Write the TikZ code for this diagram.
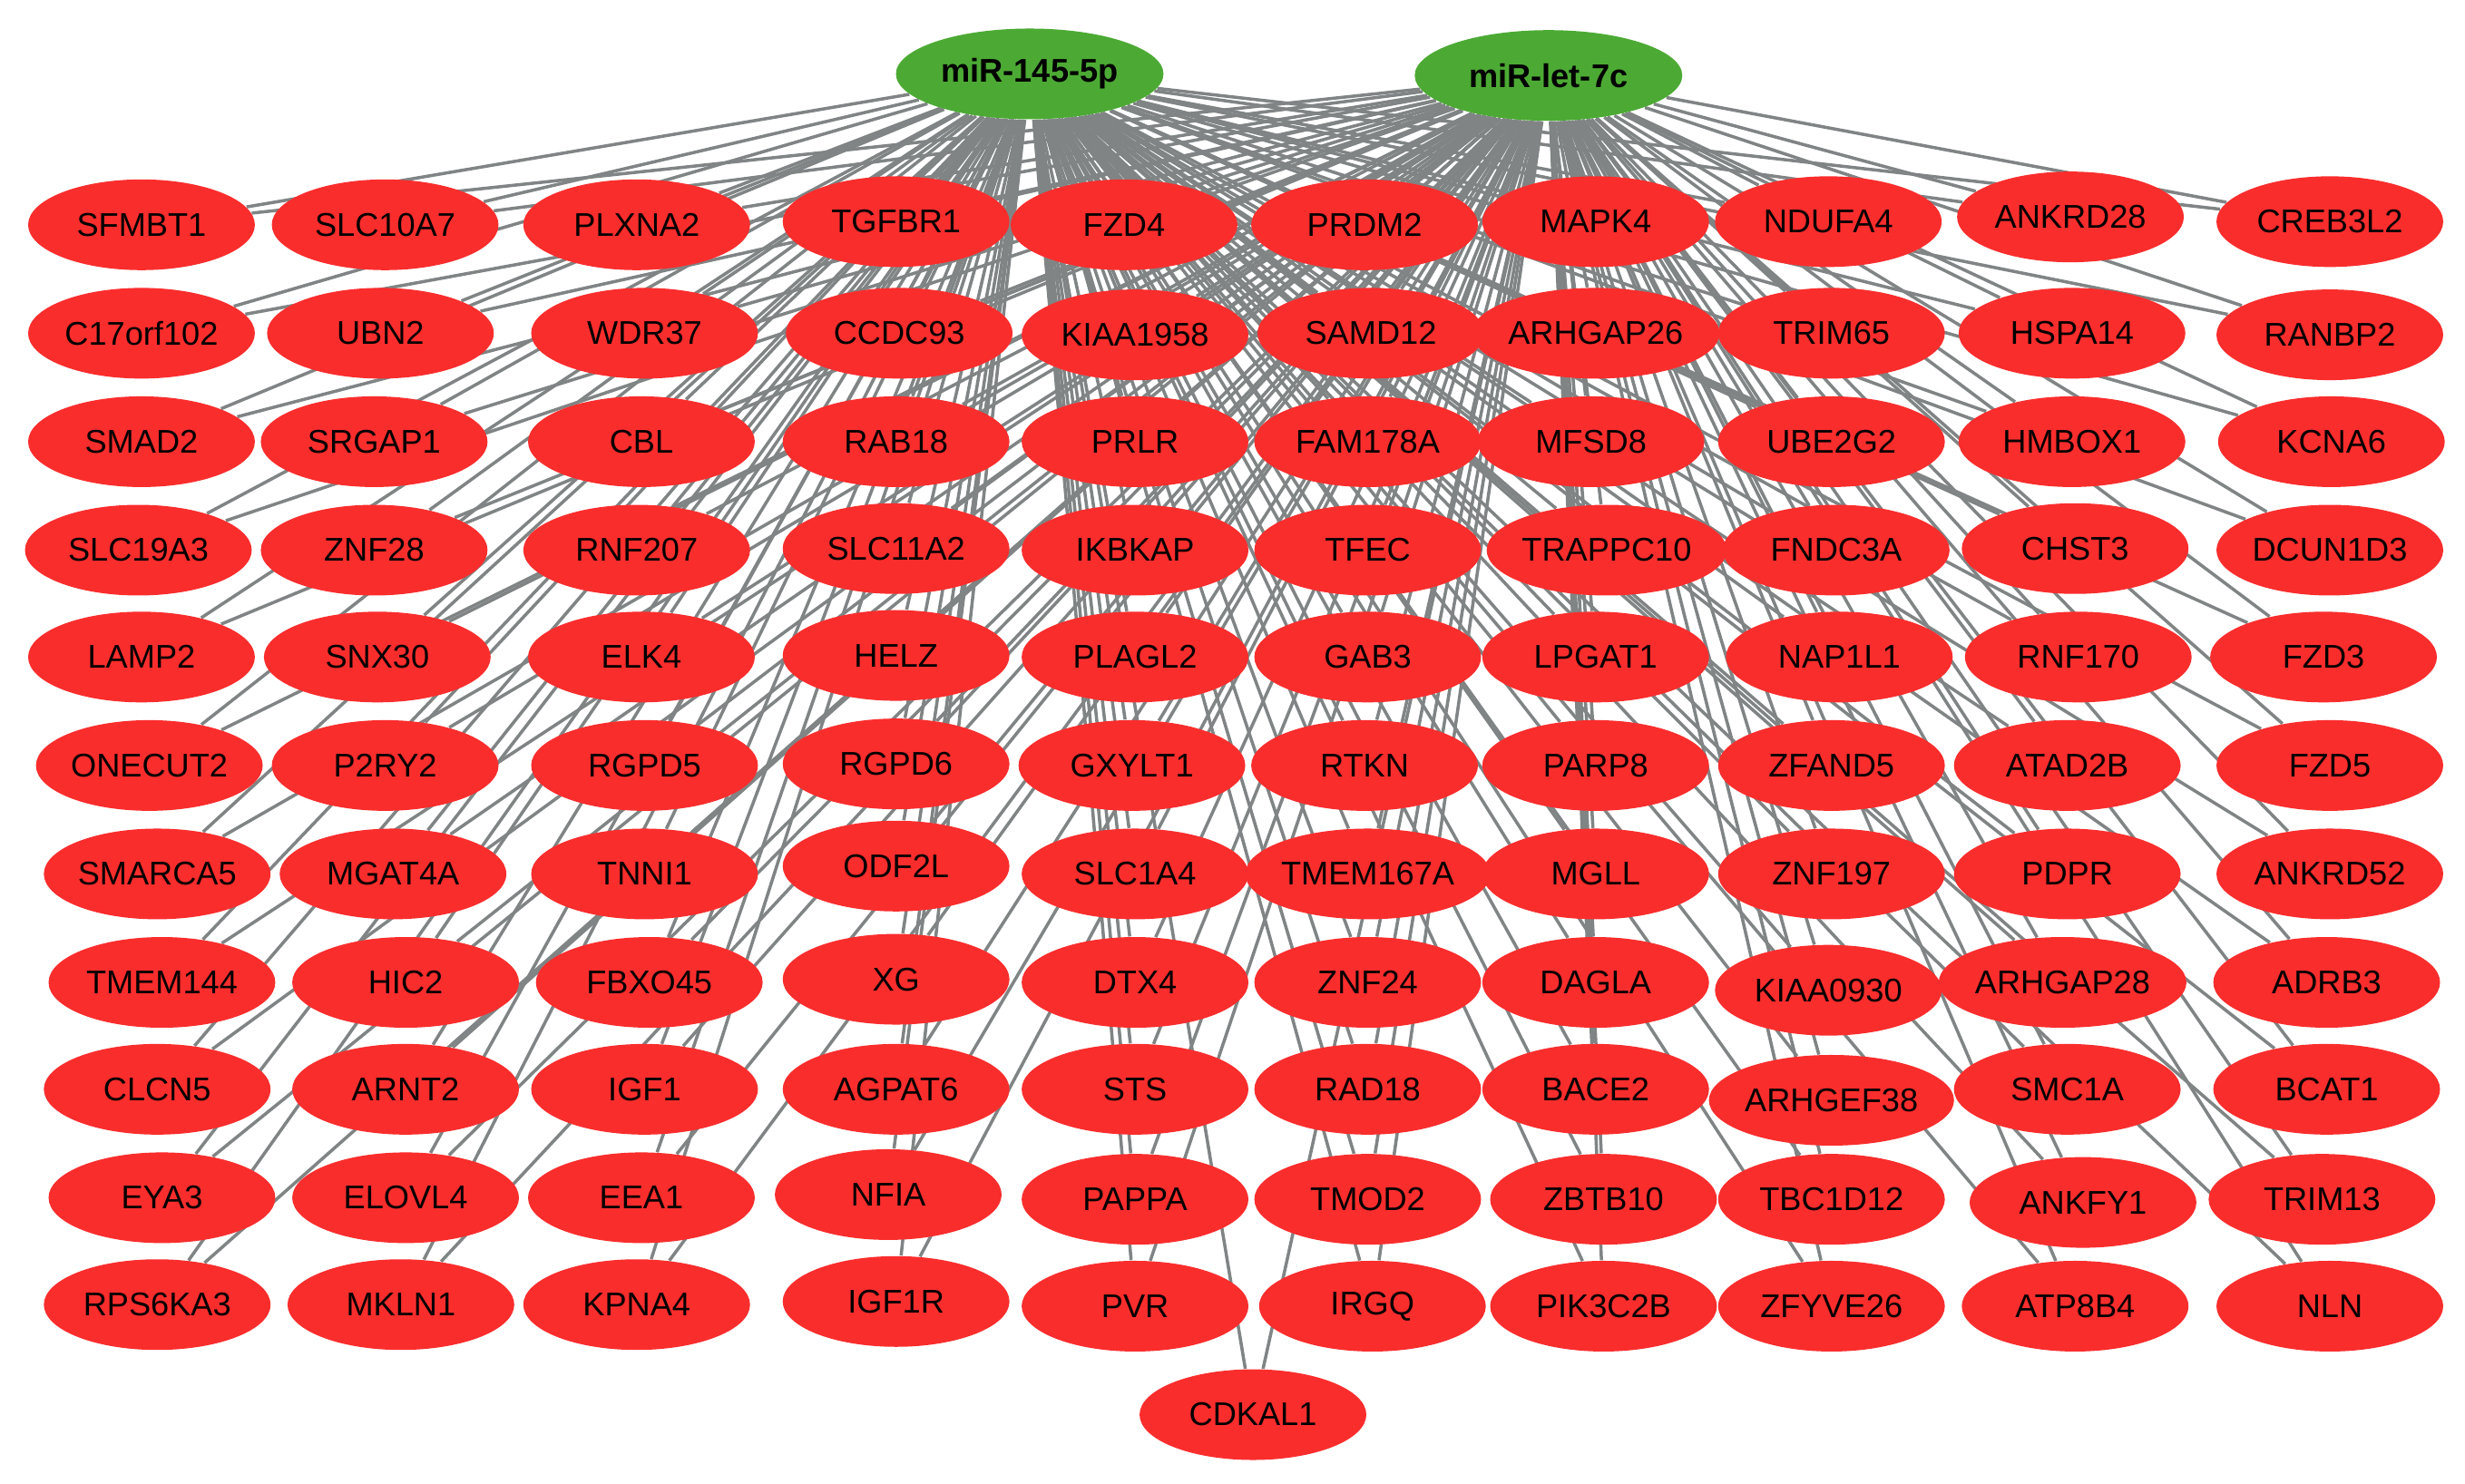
\documentclass[tikz,border=0pt]{standalone}
\usepackage{fontspec}
\setmainfont{Liberation Sans}
\usetikzlibrary{shapes.geometric, backgrounds}
\definecolor{genered}{RGB}{250,45,45}
\definecolor{mirgreen}{RGB}{76,170,52}
\definecolor{linkgray}{RGB}{128,132,132}
% name/x/y of every target gene
\def\genelist{%
SFMBT1/90/143, SLC10A7/245/143, PLXNA2/405/143, TGFBR1/570/141, FZD4/715/143,
PRDM2/868/143, MAPK4/1015/141, NDUFA4/1163/141, ANKRD28/1317/138, CREB3L2/1482/141,
C17orf102/90/212, UBN2/242/212, WDR37/410/212, CCDC93/572/212, KIAA1958/722/213,
SAMD12/872/212, ARHGAP26/1015/212, TRIM65/1165/212, HSPA14/1318/212, RANBP2/1482/213,
SMAD2/90/281, SRGAP1/238/281, CBL/408/281, RAB18/570/281, PRLR/722/281,
FAM178A/870/281, MFSD8/1012/281, UBE2G2/1165/281, HMBOX1/1318/281, KCNA6/1483/281,
SLC19A3/88/350, ZNF28/238/350, RNF207/405/350, SLC11A2/570/349, IKBKAP/722/350,
TFEC/870/350, TRAPPC10/1022/350, FNDC3A/1168/350, CHST3/1320/349, DCUN1D3/1482/350,
LAMP2/90/418, SNX30/240/418, ELK4/408/418, HELZ/570/417, PLAGL2/722/418,
GAB3/870/418, LPGAT1/1015/418, NAP1L1/1170/418, RNF170/1322/418, FZD3/1478/418,
ONECUT2/95/487, P2RY2/245/487, RGPD5/410/487, RGPD6/570/486, GXYLT1/720/487,
RTKN/868/487, PARP8/1015/487, ZFAND5/1165/487, ATAD2B/1315/487, FZD5/1482/487,
SMARCA5/100/556, MGAT4A/250/556, TNNI1/410/556, ODF2L/570/551, SLC1A4/722/556,
TMEM167A/870/556, MGLL/1015/556, ZNF197/1165/556, PDPR/1315/556, ANKRD52/1482/556,
TMEM144/103/625, HIC2/258/625, FBXO45/413/625, XG/570/623, DTX4/722/625,
ZNF24/870/625, DAGLA/1015/625, KIAA0930/1163/630, ARHGAP28/1312/625, ADRB3/1480/625,
CLCN5/100/693, ARNT2/258/693, IGF1/410/693, AGPAT6/570/693, STS/722/693,
RAD18/870/693, BACE2/1015/693, ARHGEF38/1165/700, SMC1A/1315/693, BCAT1/1480/693,
EYA3/103/762, ELOVL4/258/762, EEA1/408/762, NFIA/565/760, PAPPA/722/763,
TMOD2/870/763, ZBTB10/1020/763, TBC1D12/1165/763, ANKFY1/1325/765, TRIM13/1477/763,
RPS6KA3/100/830, MKLN1/255/830, KPNA4/405/830, IGF1R/570/828, PVR/722/831,
IRGQ/873/831, PIK3C2B/1020/831, ZFYVE26/1165/831, ATP8B4/1320/831, NLN/1482/831,
CDKAL1/797/900}

\begin{document}
\begin{tikzpicture}[
    x=0.017328cm, y=-0.017328cm,
gene/.style = {ellipse, fill=genered, minimum width=25mm, minimum height=10mm,
               inner sep=0pt, font=\fontsize{10.3}{12}\selectfont},
mir/.style  = {ellipse, fill=mirgreen, minimum width=29.5mm, minimum height=10mm,
               inner sep=0pt, font=\fontsize{10.3}{12}\selectfont\bfseries},
link/.style = {draw=linkgray, line width=1pt}
                        ]
\useasboundingbox (0,0) rectangle (1568,944);
\node (m145)  [mir] at (655,47) {miR-145-5p};
\node (let7c) [mir] at (985,48) {miR-let-7c};
%
\foreach \g/\x/\y in \genelist
    \node (\g) [gene] at (\x,\y) {\g};
%
\begin{scope}[on background layer]
\foreach \g/\x/\y in \genelist {
    \draw[link] (m145) -- (\g);
    \draw[link] (let7c) -- (\g);
}
\end{scope}
\end{tikzpicture}
\end{document}
